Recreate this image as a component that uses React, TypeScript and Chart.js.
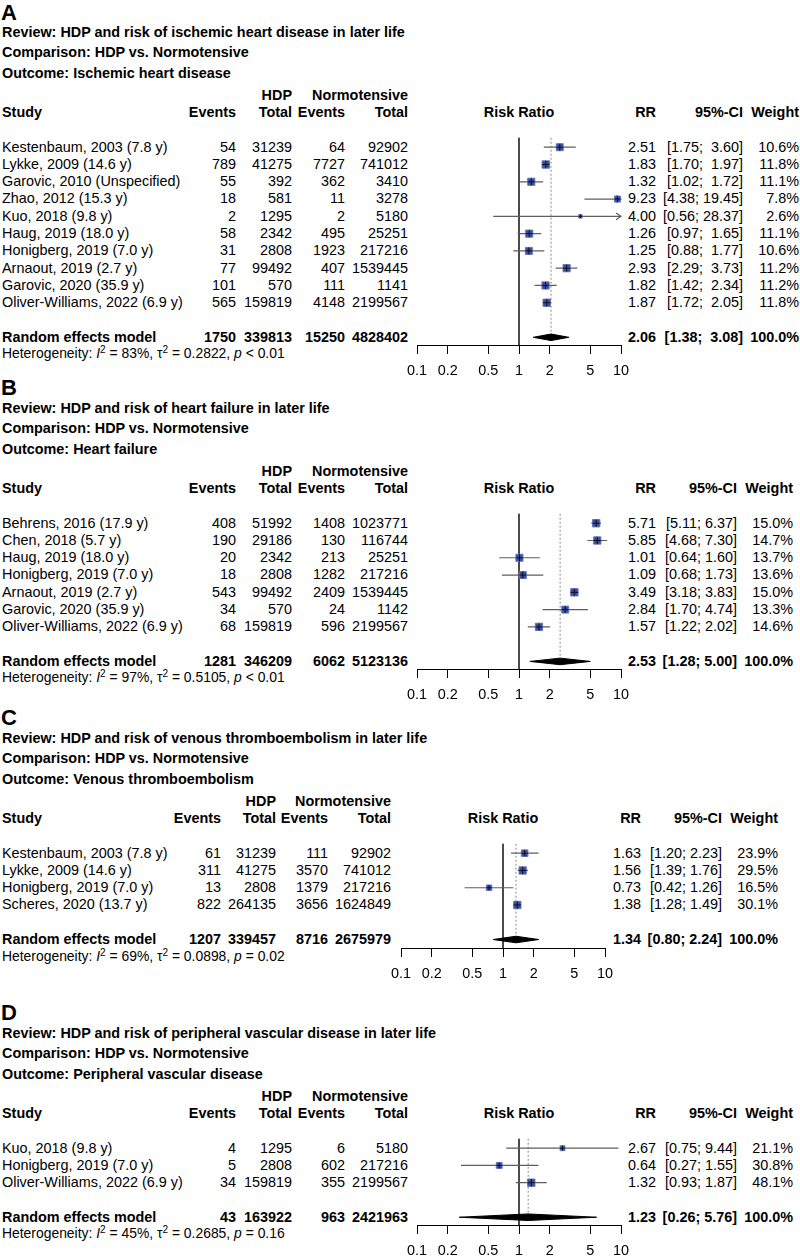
import React, { useEffect, useRef } from "react";
import { Chart, registerables } from "chart.js";

Chart.register(...registerables);

// ---------------- data ----------------
const tickValues = [0.1, 0.2, 0.5, 1, 2, 5, 10];
const tickLabels = ["0.1", "0.2", "0.5", "1", "2", "5", "10"];

// Panel A
const aTitles = [
  "Review: HDP and risk of ischemic heart disease in later life",
  "Comparison: HDP vs. Normotensive",
  "Outcome: Ischemic heart disease",
];
const aStudies = [
  "Kestenbaum, 2003 (7.8 y)",
  "Lykke, 2009 (14.6 y)",
  "Garovic, 2010 (Unspecified)",
  "Zhao, 2012 (15.3 y)",
  "Kuo, 2018 (9.8 y)",
  "Haug, 2019 (18.0 y)",
  "Honigberg, 2019 (7.0 y)",
  "Arnaout, 2019 (2.7 y)",
  "Garovic, 2020 (35.9 y)",
  "Oliver-Williams, 2022 (6.9 y)",
];
const aHdpEvents = [54, 789, 55, 18, 2, 58, 31, 77, 101, 565];
const aHdpTotal = [31239, 41275, 392, 581, 1295, 2342, 2808, 99492, 570, 159819];
const aNormEvents = [64, 7727, 362, 11, 2, 495, 1923, 407, 111, 4148];
const aNormTotal = [92902, 741012, 3410, 3278, 5180, 25251, 217216, 1539445, 1141, 2199567];
const aRR = [2.51, 1.83, 1.32, 9.23, 4.0, 1.26, 1.25, 2.93, 1.82, 1.87];
const aLower = [1.75, 1.7, 1.02, 4.38, 0.56, 0.97, 0.88, 2.29, 1.42, 1.72];
const aUpper = [3.6, 1.97, 1.72, 19.45, 28.37, 1.65, 1.77, 3.73, 2.34, 2.05];
const aWeight = [10.6, 11.8, 11.1, 7.8, 2.6, 11.1, 10.6, 11.2, 11.2, 11.8];
const aPooled = [2.06, 1.38, 3.08];
const aPooledCounts = [1750, 339813, 15250, 4828402];
const aHet = ["83%", "0.2822", "< 0.01"];

// Panel B
const bTitles = [
  "Review: HDP and risk of heart failure in later life",
  "Comparison: HDP vs. Normotensive",
  "Outcome: Heart failure",
];
const bStudies = [
  "Behrens, 2016 (17.9 y)",
  "Chen, 2018 (5.7 y)",
  "Haug, 2019 (18.0 y)",
  "Honigberg, 2019 (7.0 y)",
  "Arnaout, 2019 (2.7 y)",
  "Garovic, 2020 (35.9 y)",
  "Oliver-Williams, 2022 (6.9 y)",
];
const bHdpEvents = [408, 190, 20, 18, 543, 34, 68];
const bHdpTotal = [51992, 29186, 2342, 2808, 99492, 570, 159819];
const bNormEvents = [1408, 130, 213, 1282, 2409, 24, 596];
const bNormTotal = [1023771, 116744, 25251, 217216, 1539445, 1142, 2199567];
const bRR = [5.71, 5.85, 1.01, 1.09, 3.49, 2.84, 1.57];
const bLower = [5.11, 4.68, 0.64, 0.68, 3.18, 1.7, 1.22];
const bUpper = [6.37, 7.3, 1.6, 1.73, 3.83, 4.74, 2.02];
const bWeight = [15.0, 14.7, 13.7, 13.6, 15.0, 13.3, 14.6];
const bPooled = [2.53, 1.28, 5.0];
const bPooledCounts = [1281, 346209, 6062, 5123136];
const bHet = ["97%", "0.5105", "< 0.01"];

// Panel C
const cTitles = [
  "Review: HDP and risk of venous thromboembolism in later life",
  "Comparison: HDP vs. Normotensive",
  "Outcome: Venous thromboembolism",
];
const cStudies = [
  "Kestenbaum, 2003 (7.8 y)",
  "Lykke, 2009 (14.6 y)",
  "Honigberg, 2019 (7.0 y)",
  "Scheres, 2020 (13.7 y)",
];
const cHdpEvents = [61, 311, 13, 822];
const cHdpTotal = [31239, 41275, 2808, 264135];
const cNormEvents = [111, 3570, 1379, 3656];
const cNormTotal = [92902, 741012, 217216, 1624849];
const cRR = [1.63, 1.56, 0.73, 1.38];
const cLower = [1.2, 1.39, 0.42, 1.28];
const cUpper = [2.23, 1.76, 1.26, 1.49];
const cWeight = [23.9, 29.5, 16.5, 30.1];
const cPooled = [1.34, 0.8, 2.24];
const cPooledCounts = [1207, 339457, 8716, 2675979];
const cHet = ["69%", "0.0898", "= 0.02"];

// Panel D
const dTitles = [
  "Review: HDP and risk of peripheral vascular disease in later life",
  "Comparison: HDP vs. Normotensive",
  "Outcome: Peripheral vascular disease",
];
const dStudies = [
  "Kuo, 2018 (9.8 y)",
  "Honigberg, 2019 (7.0 y)",
  "Oliver-Williams, 2022 (6.9 y)",
];
const dHdpEvents = [4, 5, 34];
const dHdpTotal = [1295, 2808, 159819];
const dNormEvents = [6, 602, 355];
const dNormTotal = [5180, 217216, 2199567];
const dRR = [2.67, 0.64, 1.32];
const dLower = [0.75, 0.27, 0.93];
const dUpper = [9.44, 1.55, 1.87];
const dWeight = [21.1, 30.8, 48.1];
const dPooled = [1.23, 0.26, 5.76];
const dPooledCounts = [43, 163922, 963, 2421963];
const dHet = ["45%", "0.2685", "= 0.16"];

// ---------------- layout / style ----------------
const FONT = '"Liberation Sans", Arial, Helvetica, sans-serif';
const FS = 14.4;
const HET_FS = 13.9;
const LETTER_FS = 22;
const LH = 17;
const ROW_H = 17.3;
const ROW0_OFFSET = 137;
const PAD_X = 30;
const PAD_TOP = 6;
const AXIS_H = 34;
const AXIS_W = 204;
const PAGE_W = 800;
const PAGE_H = 1257;
const DIAMOND_H = 0.19;
const CI_COLOR = "#5e5e5e";
const SQ_FILL = "#3a4ea1";
const SQ_EDGE = "#6577c2";

type Cols = { ev: number; tot: number; nev: number; ntot: number; axisL: number; rr: number; ci: number; w: number };
const colsA: Cols = { ev: 236, tot: 292, nev: 345, ntot: 408, axisL: 417, rr: 656, ci: 743, w: 799 };
const colsB: Cols = { ev: 236, tot: 292, nev: 345, ntot: 408, axisL: 417, rr: 656, ci: 737, w: 793 };
const colsC: Cols = { ev: 221, tot: 276, nev: 328, ntot: 391, axisL: 401, rr: 641, ci: 722, w: 778 };
const colsD: Cols = { ev: 236, tot: 292, nev: 345, ntot: 408, axisL: 417, rr: 656, ci: 737, w: 793 };
const panelTops = [10, 386, 716, 1011];

// ---------------- helpers ----------------
type TProps = { x: number; y: number; align?: "left" | "right" | "center"; bold?: boolean; size?: number; children: React.ReactNode };
function T({ x, y, align = "left", bold = false, size = FS, children }: TProps) {
  const style: React.CSSProperties = {
    position: "absolute",
    top: y - LH / 2,
    height: LH,
    lineHeight: LH + "px",
    whiteSpace: "pre",
    fontWeight: bold ? "bold" : "normal",
    fontSize: size,
  };
  if (align === "left") style.left = x;
  else if (align === "right") style.right = PAGE_W - x;
  else {
    style.left = x - 200;
    style.width = 400;
    style.textAlign = "center";
  }
  return <div style={style}>{children}</div>;
}

function fmtCI(lo: number, hi: number, wide: boolean) {
  const pad = wide && hi < 10 ? "  " : " ";
  return "[" + lo.toFixed(2) + ";" + pad + hi.toFixed(2) + "]";
}

type ForestProps = { rr: number[]; lower: number[]; upper: number[]; weight: number[]; pooled: number[]; top: number; axisL: number };

function Forest({ rr, lower, upper, weight, pooled, top, axisL }: ForestProps) {
  const ref = useRef<HTMLCanvasElement | null>(null);
  const n = rr.length;
  const row0 = top + ROW0_OFFSET;
  const canvasTop = Math.round(row0 - 0.6 * ROW_H - PAD_TOP);
  const chartTop = canvasTop + PAD_TOP;
  const axisPx = Math.round(row0 + (n + 1) * ROW_H + 8);
  const yMin = (chartTop - row0) / ROW_H;
  const yMax = (axisPx - row0) / ROW_H;
  const canvasH = axisPx - canvasTop + AXIS_H;
  const canvasW = AXIS_W + 2 * PAD_X;
  const canvasLeft = axisL - PAD_X;

  useEffect(() => {
    if (!ref.current) return;
    const xMin = tickValues[0];
    const xMax = tickValues[tickValues.length - 1];
    const pxPerDecade = AXIS_W / Math.log10(xMax / xMin);
    const arrowF = Math.pow(10, 5 / pxPerDecade);
    const wMax = Math.max(...weight);
    const sides = weight.map((w) => 7.4 * Math.sqrt(w / wMax));
    const lineBase = { showLine: true, pointRadius: 0, pointHoverRadius: 0, fill: false, tension: 0 };
    const datasets: any[] = [];
    datasets.push({ ...lineBase, data: [{ x: 1, y: -0.55 }, { x: 1, y: yMax }], borderColor: "#333333", borderWidth: 1, order: 10 });
    datasets.push({
      ...lineBase,
      data: [{ x: pooled[0], y: -0.55 }, { x: pooled[0], y: n + 1 }],
      borderColor: "#8a8a8a",
      borderWidth: 1,
      borderDash: [2, 2],
      order: 9,
    });
    rr.forEach((_, i) => {
      const lo = Math.max(lower[i], xMin);
      const hi = Math.min(upper[i], xMax);
      datasets.push({ ...lineBase, data: [{ x: lo, y: i }, { x: hi, y: i }], borderColor: CI_COLOR, borderWidth: 1.2, order: 8 });
      if (upper[i] > xMax) {
        datasets.push({
          ...lineBase,
          data: [{ x: xMax / arrowF, y: i - 0.2 }, { x: xMax, y: i }, { x: xMax / arrowF, y: i + 0.2 }],
          borderColor: CI_COLOR,
          borderWidth: 1.2,
          order: 8,
          clip: false,
        });
      }
      if (lower[i] < xMin) {
        datasets.push({
          ...lineBase,
          data: [{ x: xMin * arrowF, y: i - 0.2 }, { x: xMin, y: i }, { x: xMin * arrowF, y: i + 0.2 }],
          borderColor: CI_COLOR,
          borderWidth: 1.2,
          order: 8,
          clip: false,
        });
      }
    });
    const pts = rr.map((v, i) => ({ x: v, y: i }));
    datasets.push({
      data: pts,
      pointStyle: "rect",
      pointRadius: sides.map((s) => s / Math.SQRT2),
      pointHoverRadius: sides.map((s) => s / Math.SQRT2),
      backgroundColor: SQ_FILL,
      borderColor: SQ_EDGE,
      borderWidth: 1,
      order: 5,
      clip: false,
    });
    datasets.push({
      data: pts,
      pointStyle: "cross",
      pointRadius: sides.map((s) => s / 2),
      pointHoverRadius: sides.map((s) => s / 2),
      borderColor: "#111111",
      borderWidth: 1,
      order: 4,
      clip: false,
    });
    const r = n + 1;
    datasets.push({
      ...lineBase,
      data: [
        { x: pooled[1], y: r },
        { x: pooled[0], y: r - DIAMOND_H },
        { x: pooled[2], y: r },
        { x: pooled[0], y: r + DIAMOND_H },
        { x: pooled[1], y: r },
      ],
      fill: "shape",
      backgroundColor: "#000000",
      borderColor: "#000000",
      borderWidth: 1,
      order: 1,
    });

    const chart = new Chart(ref.current, {
      type: "scatter",
      data: { datasets },
      options: {
        animation: false,
        responsive: false,
        events: [],
        devicePixelRatio: 1,
        layout: { padding: { left: PAD_X, right: PAD_X, top: PAD_TOP, bottom: 0 } },
        plugins: { legend: { display: false }, tooltip: { enabled: false } },
        scales: {
          x: {
            type: "logarithmic",
            min: xMin,
            max: xMax,
            afterBuildTicks: (s: any) => {
              s.ticks = tickValues.map((v) => ({ value: v }));
            },
            afterFit: (s: any) => {
              s.height = AXIS_H;
              s.paddingLeft = 0;
              s.paddingRight = 0;
            },
            ticks: {
              autoSkip: false,
              maxRotation: 0,
              minRotation: 0,
              padding: 8,
              color: "#000000",
              font: { family: FONT, size: FS },
              callback: (_v: any, i: number) => tickLabels[i],
            },
            grid: { display: true, drawOnChartArea: false, drawTicks: true, tickLength: 9, color: "#000000", lineWidth: 1 },
            border: { display: true, color: "#000000", width: 1 },
          },
          y: { type: "linear", reverse: true, min: yMin, max: yMax, display: false },
        },
      } as any,
    });
    return () => chart.destroy();
  }, []);

  return (
    <canvas
      ref={ref}
      width={canvasW}
      height={canvasH}
      style={{ position: "absolute", left: canvasLeft, top: canvasTop, width: canvasW, height: canvasH }}
    />
  );
}

type PanelProps = {
  letter: string;
  titles: string[];
  studies: string[];
  hdpEvents: number[];
  hdpTotal: number[];
  normEvents: number[];
  normTotal: number[];
  rr: number[];
  lower: number[];
  upper: number[];
  weight: number[];
  pooled: number[];
  pooledCounts: number[];
  het: string[];
  top: number;
  cols: Cols;
};

function Panel(p: PanelProps) {
  const { top, cols } = p;
  const row0 = top + ROW0_OFFSET;
  const n = p.studies.length;
  const rowY = (k: number) => row0 + k * ROW_H;
  const wide = p.upper.some((u) => u >= 10);
  const h1 = top + 85;
  const h2 = top + 102;
  const rY = rowY(n + 1);
  const axisC = cols.axisL + AXIS_W / 2;
  const letterLH = Math.round(LETTER_FS * 1.12);
  const sup = { fontSize: "0.72em", lineHeight: 0, verticalAlign: "0.5em" } as React.CSSProperties;
  return (
    <>
      <div
        style={{
          position: "absolute",
          left: 1,
          top: Math.max(0, top + 1 - letterLH / 2),
          height: letterLH,
          lineHeight: letterLH + "px",
          fontSize: LETTER_FS,
          fontWeight: "bold",
        }}
      >
        {p.letter}
      </div>
      {p.titles.map((t, i) => (
        <T key={"t" + i} x={2} y={top + 22 + i * 20.5} bold>
          {t}
        </T>
      ))}
      <T x={cols.tot} y={h1} align="right" bold>HDP</T>
      <T x={cols.ntot} y={h1} align="right" bold>Normotensive</T>
      <T x={2} y={h2} bold>Study</T>
      <T x={cols.ev} y={h2} align="right" bold>Events</T>
      <T x={cols.tot} y={h2} align="right" bold>Total</T>
      <T x={cols.nev} y={h2} align="right" bold>Events</T>
      <T x={cols.ntot} y={h2} align="right" bold>Total</T>
      <T x={axisC} y={h2} align="center" bold>Risk Ratio</T>
      <T x={cols.rr} y={h2} align="right" bold>RR</T>
      <T x={cols.ci} y={h2} align="right" bold>95%-CI</T>
      <T x={cols.w} y={h2} align="right" bold>Weight</T>
      {p.studies.map((s, i) => (
        <React.Fragment key={"r" + i}>
          <T x={2} y={rowY(i)}>{s}</T>
          <T x={cols.ev} y={rowY(i)} align="right">{String(p.hdpEvents[i])}</T>
          <T x={cols.tot} y={rowY(i)} align="right">{String(p.hdpTotal[i])}</T>
          <T x={cols.nev} y={rowY(i)} align="right">{String(p.normEvents[i])}</T>
          <T x={cols.ntot} y={rowY(i)} align="right">{String(p.normTotal[i])}</T>
          <T x={cols.rr} y={rowY(i)} align="right">{p.rr[i].toFixed(2)}</T>
          <T x={cols.ci} y={rowY(i)} align="right">{fmtCI(p.lower[i], p.upper[i], wide)}</T>
          <T x={cols.w} y={rowY(i)} align="right">{p.weight[i].toFixed(1) + "%"}</T>
        </React.Fragment>
      ))}
      <T x={2} y={rY} bold>Random effects model</T>
      <T x={cols.ev} y={rY} align="right" bold>{String(p.pooledCounts[0])}</T>
      <T x={cols.tot} y={rY} align="right" bold>{String(p.pooledCounts[1])}</T>
      <T x={cols.nev} y={rY} align="right" bold>{String(p.pooledCounts[2])}</T>
      <T x={cols.ntot} y={rY} align="right" bold>{String(p.pooledCounts[3])}</T>
      <T x={cols.rr} y={rY} align="right" bold>{p.pooled[0].toFixed(2)}</T>
      <T x={cols.ci} y={rY} align="right" bold>{fmtCI(p.pooled[1], p.pooled[2], wide)}</T>
      <T x={cols.w} y={rY} align="right" bold>100.0%</T>
      <T x={2} y={rY + 16.5} size={HET_FS}>
        {"Heterogeneity: "}
        <i>I</i>
        <sup style={sup}>2</sup>
        {" = " + p.het[0] + ", \u03c4"}
        <sup style={sup}>2</sup>
        {" = " + p.het[1] + ", "}
        <i>p</i>
        {" " + p.het[2]}
      </T>
      <Forest rr={p.rr} lower={p.lower} upper={p.upper} weight={p.weight} pooled={p.pooled} top={top} axisL={cols.axisL} />
    </>
  );
}

export default function App() {
  return (
    <div
      style={{
        position: "absolute",
        left: 0,
        top: 0,
        width: PAGE_W,
        height: PAGE_H,
        overflow: "hidden",
        background: "#ffffff",
        color: "#000000",
        fontFamily: FONT,
        fontSize: FS,
      }}
    >
      <Panel letter="A" titles={aTitles} studies={aStudies} hdpEvents={aHdpEvents} hdpTotal={aHdpTotal} normEvents={aNormEvents} normTotal={aNormTotal} rr={aRR} lower={aLower} upper={aUpper} weight={aWeight} pooled={aPooled} pooledCounts={aPooledCounts} het={aHet} top={panelTops[0]} cols={colsA} />
      <Panel letter="B" titles={bTitles} studies={bStudies} hdpEvents={bHdpEvents} hdpTotal={bHdpTotal} normEvents={bNormEvents} normTotal={bNormTotal} rr={bRR} lower={bLower} upper={bUpper} weight={bWeight} pooled={bPooled} pooledCounts={bPooledCounts} het={bHet} top={panelTops[1]} cols={colsB} />
      <Panel letter="C" titles={cTitles} studies={cStudies} hdpEvents={cHdpEvents} hdpTotal={cHdpTotal} normEvents={cNormEvents} normTotal={cNormTotal} rr={cRR} lower={cLower} upper={cUpper} weight={cWeight} pooled={cPooled} pooledCounts={cPooledCounts} het={cHet} top={panelTops[2]} cols={colsC} />
      <Panel letter="D" titles={dTitles} studies={dStudies} hdpEvents={dHdpEvents} hdpTotal={dHdpTotal} normEvents={dNormEvents} normTotal={dNormTotal} rr={dRR} lower={dLower} upper={dUpper} weight={dWeight} pooled={dPooled} pooledCounts={dPooledCounts} het={dHet} top={panelTops[3]} cols={colsD} />
    </div>
  );
}
